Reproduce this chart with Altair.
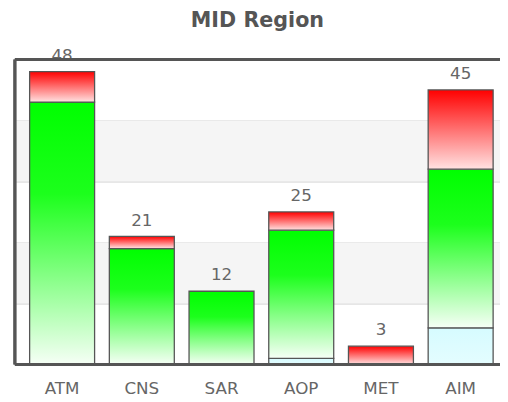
import altair as alt
import pandas as pd

categories = ["ATM", "CNS", "SAR", "AOP", "MET", "AIM"]
base_vals = [0, 0, 0, 1, 0, 6]      # light cyan (bottom)
green_vals = [43, 19, 12, 21, 0, 26]  # green (middle)
red_vals = [5, 2, 0, 3, 3, 13]       # red (top)
series_names = ["base", "green", "red"]
band_lo = [10, 30]
band_hi = [20, 40]

rows = []
for s_i, (name, vals) in enumerate(zip(series_names, [base_vals, green_vals, red_vals])):
    for c, v in zip(categories, vals):
        if v > 0:
            rows.append({"category": c, "series": name, "value": v, "order": s_i})
df = pd.DataFrame(rows)
bands = pd.DataFrame({"lo": band_lo, "hi": band_hi})

FONT = "DejaVu Sans"
x_enc = alt.X(
    "category:N",
    sort=categories,
    scale=alt.Scale(range=[0, 501], paddingInner=0.185, paddingOuter=0.185),
    axis=alt.Axis(title=None, ticks=False, domain=False, grid=False, labelAngle=0,
                  labelPadding=17, labelFontSize=17, labelColor="#666", labelFont=FONT),
)
y_scale = alt.Scale(domain=[0, 50], nice=False, zero=True)
y_axis = alt.Axis(values=[10, 20, 30, 40], grid=True, labels=False, ticks=False,
                  domain=False, title=None, gridColor="#c4c4c4", gridWidth=1)

band_layer = alt.Chart(bands).mark_rect(color="#f5f5f5").encode(
    x=alt.value(0), x2=alt.value("width"),
    y=alt.Y("lo:Q", scale=y_scale, axis=y_axis), y2="hi:Q",
)

base = alt.Chart(df).transform_stack(
    stack="value", as_=["y0", "y1"], groupby=["category"],
    sort=[alt.SortField("order", order="ascending")],
)

def grad(stops):
    return alt.Gradient(gradient="linear", x1=0, x2=0, y1=0, y2=1,
                        stops=[alt.GradientStop(offset=o, color=c) for o, c in stops])

fills = {
    "base": grad([(0, "#d6fbff"), (1, "#e4fdff")]),
    "green": grad([(0, "#00ff00"), (0.35, "#1cff1c"), (1, "#f6fff6")]),
    "red": grad([(0, "#ff0000"), (1, "#ffe2e2")]),
}

bar_layers = []
for name in series_names:
    bar_layers.append(
        base.transform_filter(alt.datum.series == name)
        .mark_bar(color=fills[name], stroke="#555", strokeWidth=1.3)
        .encode(x=x_enc, y=alt.Y("y0:Q", scale=y_scale, axis=y_axis), y2="y1:Q")
    )

labels = alt.Chart(df).transform_aggregate(
    total="sum(value)", groupby=["category"]
).mark_text(baseline="bottom", dy=-7, fontSize=17, color="#666", font=FONT).encode(
    x=x_enc, y=alt.Y("total:Q", scale=y_scale, axis=y_axis), text="total:Q"
)

frame_top = alt.Chart(bands).mark_rule(color="#555", strokeWidth=3).encode(
    x=alt.value(0), x2=alt.value("width"), y=alt.value(0))
frame_left = alt.Chart(bands).mark_rule(color="#555", strokeWidth=3).encode(
    x=alt.value(0), y=alt.value(0), y2=alt.value("height"))
frame_bottom = alt.Chart(bands).mark_rule(color="#555", strokeWidth=3).encode(
    x=alt.value(0), x2=alt.value("width"), y=alt.value("height"))

chart = alt.layer(
    band_layer, *bar_layers, labels, frame_top, frame_left, frame_bottom
).properties(
    width=493, height=310,
    title=alt.TitleParams("MID Region", fontSize=21, font=FONT, fontWeight="bold",
                          color="#555", offset=16, anchor="middle"),
    autosize=alt.AutoSizeParams(type="none"),
    padding={"left": 7, "top": 49, "right": 0, "bottom": 40},
).configure_view(stroke=None).configure(background="white")

chart.save("out.html", embed_options={"renderer": "svg", "actions": False})
